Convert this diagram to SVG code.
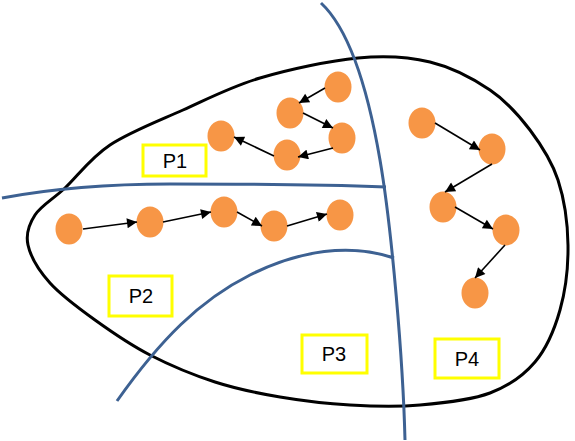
<svg xmlns="http://www.w3.org/2000/svg" width="575" height="441" viewBox="0 0 575 441">
<style>
.outline{fill:none;stroke:#000;stroke-width:3}
.border{fill:none;stroke:#3d6192;stroke-width:3}
.node{fill:#f79646}
.arrow{stroke:#000;stroke-width:1.6;fill:none;marker-end:url(#ah)}
.lbl rect{fill:#fff;stroke:#ffff00;stroke-width:3}
.lbl text{font-family:"Liberation Sans",Arial,sans-serif;font-size:20px;fill:#000;text-anchor:middle}
</style>
<defs>
<marker id="ah" viewBox="0 0 10 10" refX="10" refY="5" markerWidth="12" markerHeight="10" markerUnits="userSpaceOnUse" orient="auto">
<path d="M0,0 L10,5 L0,10 Z" fill="#000"/>
</marker>
</defs>
<rect width="575" height="441" fill="#fff"/>
<g id="region">
<path class="outline" d="M358,58 C386.3,55.3 408,56.7 430,62 C452,67.3 473.3,78.7 490,90 C506.7,101.3 518.7,115 530,130 C541.3,145 551.7,160.8 558,180 C564.3,199.2 567.7,223.3 568,245 C568.3,266.7 565.5,290.5 560,310 C554.5,329.5 546.7,348.2 535,362 C523.3,375.8 509.2,385.8 490,393 C470.8,400.2 443.3,403 420,405 C396.7,407 373.3,406.3 350,405 C326.7,403.7 302.5,400.8 280,397 C257.5,393.2 236.7,389 215,382 C193.3,375 170,365.3 150,355 C130,344.7 111.7,332 95,320 C78.3,308 61.2,295.5 50,283 C38.8,270.5 30.5,256.3 28,245 C25.5,233.7 28.8,224.5 35,215 C41.2,205.5 52.5,199.7 65,188 C77.5,176.3 90.3,158 110,145 C129.7,132 158,121.2 183,110 C208,98.8 230.8,86.7 260,78 C289.2,69.3 329.7,60.7 358,58 Z"/>
</g>
<g id="borders">
<path class="border" d="M321,3 C350,30 368,90 380,160 S403,360 405,440"/>
<path class="border" d="M2,198 C50,189 100,184 170,184 C250,184 330,185 386,187"/>
<path class="border" d="M117,401 C160,340 200,300 250,275 C300,250 350,243 394,258"/>
</g>
<g id="nodes">
<g id="n1a"><ellipse class="node" cx="338" cy="87" rx="13.5" ry="15.5"/></g>
<g id="n1b"><ellipse class="node" cx="290" cy="113" rx="13.5" ry="15.5"/></g>
<g id="n1c"><ellipse class="node" cx="342" cy="138" rx="13.5" ry="15.5"/></g>
<g id="n1d"><ellipse class="node" cx="287" cy="155" rx="13.5" ry="15.5"/></g>
<g id="n1e"><ellipse class="node" cx="221" cy="136" rx="13.5" ry="15.5"/></g>
<g id="n2a"><ellipse class="node" cx="69" cy="229" rx="13.5" ry="15.5"/></g>
<g id="n2b"><ellipse class="node" cx="150" cy="222" rx="13.5" ry="15.5"/></g>
<g id="n2c"><ellipse class="node" cx="224" cy="212" rx="13.5" ry="15.5"/></g>
<g id="n2d"><ellipse class="node" cx="274" cy="226" rx="13.5" ry="15.5"/></g>
<g id="n2e"><ellipse class="node" cx="340" cy="215" rx="13.5" ry="15.5"/></g>
<g id="n4a"><ellipse class="node" cx="422" cy="123" rx="13.5" ry="15.5"/></g>
<g id="n4b"><ellipse class="node" cx="492" cy="149" rx="13.5" ry="15.5"/></g>
<g id="n4c"><ellipse class="node" cx="443" cy="207" rx="13.5" ry="15.5"/></g>
<g id="n4d"><ellipse class="node" cx="506" cy="230" rx="13.5" ry="15.5"/></g>
<g id="n4e"><ellipse class="node" cx="475" cy="293" rx="13.5" ry="15.5"/></g>
</g>
<g id="connectors">
<line class="arrow" x1="325" y1="88" x2="299" y2="103"/>
<line class="arrow" x1="303" y1="113" x2="333" y2="128"/>
<line class="arrow" x1="333" y1="148" x2="298" y2="157"/>
<line class="arrow" x1="274" y1="156" x2="234" y2="137"/>
<line class="arrow" x1="83" y1="229" x2="137" y2="222"/>
<line class="arrow" x1="163" y1="222" x2="211" y2="212"/>
<line class="arrow" x1="237" y1="212" x2="262" y2="226"/>
<line class="arrow" x1="287" y1="226" x2="327" y2="214"/>
<line class="arrow" x1="435" y1="123" x2="480" y2="150"/>
<line class="arrow" x1="492" y1="164" x2="445" y2="192"/>
<line class="arrow" x1="455" y1="207" x2="493" y2="229"/>
<line class="arrow" x1="505" y1="245" x2="475" y2="278"/>
</g>
<g id="P1" class="lbl"><rect x="143" y="145" width="63" height="31"/><text x="175" y="168">P1</text></g>
<g id="P2" class="lbl"><rect x="109" y="276" width="63" height="40"/><text x="141" y="303">P2</text></g>
<g id="P3" class="lbl"><rect x="302" y="335" width="65" height="38"/><text x="334" y="361">P3</text></g>
<g id="P4" class="lbl"><rect x="435" y="339" width="64" height="39"/><text x="467" y="366">P4</text></g>
</svg>
